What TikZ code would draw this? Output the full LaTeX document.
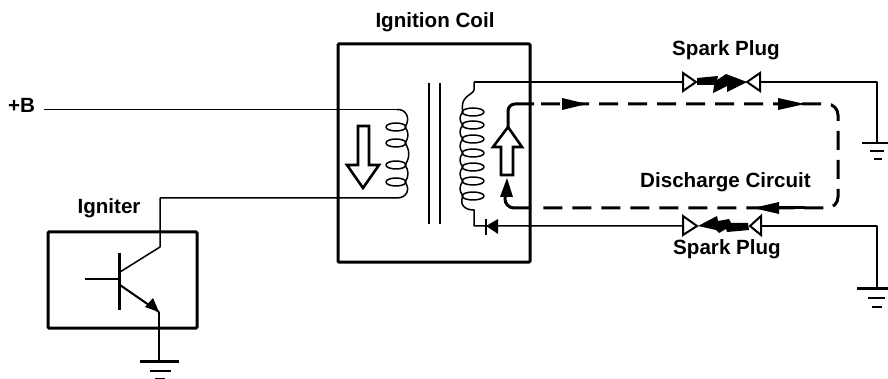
\documentclass[tikz,border=0pt]{standalone}
\usepackage{fontspec}
\setmainfont{Liberation Sans}
\tikzset{
  wire/.style={line width=1.5pt,line join=round},
  frame/.style={draw,line width=3pt,rectangle,inner sep=0pt,rounded corners=1pt},
  label/.style={font=\fontsize{20.6}{24}\selectfont\bfseries,inner sep=0pt,align=center},
  core/.style={line width=2pt},
  hollow/.style={draw,line width=2.6pt,fill=white,line join=miter},
  flow/.style={line width=3pt},
  flowdash/.style={flow,dash pattern=on 19pt off 10pt},
  gap/.style={draw,line width=2pt,fill=white,line join=miter}
}
\begin{document}
\begin{tikzpicture}[x=1pt,y=-1pt]
\useasboundingbox (0,0) rectangle (888,379);
% boxes
\node[frame,minimum width=192pt,minimum height=218pt] (coil) at (434,153) {};
\node[frame,minimum width=149pt,minimum height=96pt] (igniter) at (122.5,280) {};
% labels
\node[label] (lcoil) at (435,22) {Ignition Coil};
\node[label] (ligniter) at (109,208) {Igniter};
\node[label] (lb) at (21.5,105) {+B};
\node[label] (lplug1) at (726,50) {Spark Plug};
\node[label] (lplug2) at (727,249) {Spark Plug};
\node[label] (ldis) at (725.5,182) {Discharge Circuit};
% named points
\coordinate (bsrc) at (44,109.5);
\coordinate (ptop) at (397,109.5);
\coordinate (pbot) at (397,198);
\coordinate (ccorner) at (160,198);
\coordinate (cend) at (160,247);
\coordinate (bbar) at (120,272);
\coordinate (binput) at (85,279);
\coordinate (bcross) at (119,279);
\coordinate (eb) at (120,285);
\coordinate (etip) at (159,312);
\coordinate (g0) at (159,361);
\coordinate (stop) at (474,82);
\coordinate (sbot) at (474,226);
\coordinate (d0) at (486,226);
\coordinate (p1l) at (683,82);
\coordinate (p1r) at (760,82);
\coordinate (p1c) at (877,82);
\coordinate (g1) at (877,143);
\coordinate (p2l) at (683,226);
\coordinate (p2r) at (761,226);
\coordinate (p2c) at (877,226);
\coordinate (g2) at (877,288);
% primary wiring
\draw[wire] (bsrc) -- (ptop);
\draw[wire] (pbot) -- (ccorner) -- (cend) -- (bbar);
% primary coil
\foreach \y in {127,143,165,182} \draw[wire] (396,\y) ellipse [x radius=10,y radius=4];
\draw[wire] (ptop) .. controls (406,109) and (411,118) .. (405,127);
\draw[wire] (405,127) .. controls (409,132) and (409,138) .. (405,143);
\draw[wire] (405,143) .. controls (410,150) and (410,158) .. (405,165);
\draw[wire] (405,165) .. controls (409,170) and (409,177) .. (405,182);
\draw[wire] (405,182) .. controls (411,190) and (406,198) .. (pbot);
% core
\draw[core] (429,83) -- (429,224);
\draw[core] (440,83) -- (440,224);
% secondary coil
\foreach \y in {112,125,139,153,167,181,196} \draw[wire] (473,\y) ellipse [x radius=11,y radius=4];
\draw[wire] (stop) -- (474,90) .. controls (473,95) and (459,96) .. (463,112);
\draw[wire] (463,112) .. controls (459,116) and (459,121) .. (463,125);
\draw[wire] (463,125) .. controls (459,129) and (459,135) .. (463,139);
\draw[wire] (463,139) .. controls (459,143) and (459,149) .. (463,153);
\draw[wire] (463,153) .. controls (459,157) and (459,163) .. (463,167);
\draw[wire] (463,167) .. controls (459,171) and (459,177) .. (463,181);
\draw[wire] (463,181) .. controls (459,186) and (459,191) .. (463,196);
\draw[wire] (463,196) .. controls (459,205) and (465,210) .. (474,210) -- (sbot) -- (p2l);
\draw[wire] (stop) -- (p1l);
% diode
\fill (d0) -- (498,219) -- (498,234) -- cycle;
\draw[line width=1.8pt] (486,219) -- (486,235);
% transistor
\draw[line width=3pt] (119,253) -- (119,310);
\draw[wire] (binput) -- (bcross);
\draw[line width=2pt] (eb) -- (etip);
\fill (etip) -- (153,298) -- (145,307) -- cycle;
\draw[line width=1.8pt] (etip) -- (g0);
% grounds
\draw[line width=3pt] (140,361) -- (179,361);
\draw[line width=1.8pt] (150,371) -- (171,371);
\draw[line width=1.8pt] (155,378.5) -- (165,378.5);
\draw[wire] (p1r) -- (p1c) -- (g1);
\draw[line width=2.8pt] (862,143) -- (888,143);
\draw[line width=1.6pt] (870,151) -- (884,151);
\draw[line width=1.8pt] (874,159) -- (882,159);
\draw[wire] (p2r) -- (p2c) -- (g2);
\draw[line width=3pt] (857,288) -- (888,288);
\draw[line width=1.6pt] (868,298) -- (885,298);
\draw[line width=1.8pt] (872,307) -- (882,307);
% spark plugs
\draw[gap] (p1l) ++(0,-9) -- (696,82) -- (683,91) -- cycle;
\draw[gap] (p1r) ++(0,-9) -- (747,82) -- (760,91) -- cycle;
\fill (697,78) -- (718,76) -- (717,80) -- (726,74) -- (747,82) -- (727,92) -- (727,86) -- (713,93) -- (714,85) -- (697,85) -- cycle;
\draw[gap] (p2l) ++(0,-10) -- (697,226) -- (683,235) -- cycle;
\draw[gap] (p2r) ++(0,-10) -- (750,226) -- (761,235) -- cycle;
\fill (698,226) -- (717,216) -- (718,221) -- (729,219) -- (731,223) -- (748,223) -- (749,230) -- (727,232) -- (726,229) -- (719,233) -- (716,230) -- cycle;
% hollow arrows
\draw[hollow] (358,126) -- (369,126) -- (369,165) -- (379,165) -- (363,188) -- (347,165) -- (358,165) -- cycle;
\draw[hollow] (501,175) -- (513,175) -- (513,147) -- (522,147) -- (508,127) -- (493,147) -- (501,147) -- cycle;
% discharge circuit
\draw[flow,rounded corners=7pt] (534,104) -- (508,104) -- (508,127);
\draw[flow,rounded corners=9pt] (505,197) -- (505,208) -- (531,208);
\fill (507,178) -- (513,197) -- (500,197) -- cycle;
\draw[flowdash,line cap=butt,rounded corners=11pt] (541,104) -- (838,104) -- (838,208) -- (535,208);
\fill (805,104) -- (778,98) -- (778,110) -- cycle;
\fill (587,104) -- (562,98) -- (562,110) -- cycle;
\fill (753,208) -- (779,202) -- (779,214) -- cycle;
\draw[flow] (775,208) -- (805,208);
\end{tikzpicture}
\end{document}
